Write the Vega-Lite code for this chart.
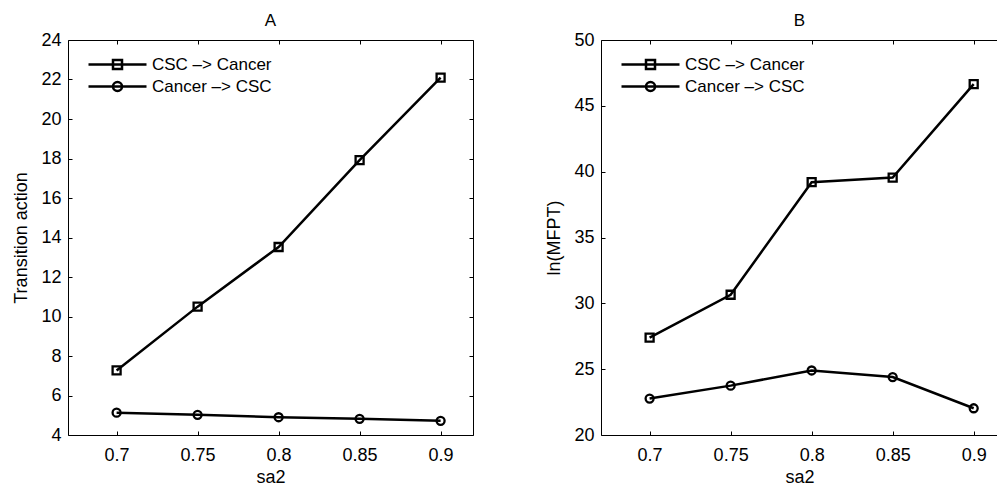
{
  "$schema": "https://vega.github.io/schema/vega-lite/v6.json",
  "padding": {"left": 12, "top": 12, "right": 0, "bottom": 0},
  "bounds": "flush",
  "spacing": 128,
  "config": {
    "view": {"stroke": null},
    "font": "Liberation Sans",
    "axis": {
      "domainColor": "#000", "tickColor": "#000", "labelColor": "#000", "titleColor": "#000",
      "labelFont": "Liberation Sans", "titleFont": "Liberation Sans",
      "labelFontSize": 18, "titleFontSize": 18, "titleFontWeight": "normal",
      "grid": false, "tickSize": -4, "domainWidth": 1, "tickWidth": 1
    },
    "legend": {
      "title": null, "orient": "none", "legendX": 41, "legendY": 16, "padding": 0,
      "symbolSize": 100, "symbolStrokeWidth": 2.5, "symbolStrokeColor": "#000", "symbolFillColor": "transparent", "symbolOpacity": 1,
      "labelFontSize": 17, "labelFont": "Liberation Sans", "labelColor": "#000", "labelOffset": 26, "rowPadding": 3
    },
    "title": {"fontSize": 17, "fontWeight": "normal", "font": "Liberation Sans", "color": "#000", "offset": 1}
  },
  "datasets": {
    "A": [
      {"sa2": 0.7, "value": 7.27, "series": "CSC –> Cancer"},
      {"sa2": 0.75, "value": 10.5, "series": "CSC –> Cancer"},
      {"sa2": 0.8, "value": 13.52, "series": "CSC –> Cancer"},
      {"sa2": 0.85, "value": 17.92, "series": "CSC –> Cancer"},
      {"sa2": 0.9, "value": 22.1, "series": "CSC –> Cancer"},
      {"sa2": 0.7, "value": 5.13, "series": "Cancer –> CSC"},
      {"sa2": 0.75, "value": 5.02, "series": "Cancer –> CSC"},
      {"sa2": 0.8, "value": 4.9, "series": "Cancer –> CSC"},
      {"sa2": 0.85, "value": 4.82, "series": "Cancer –> CSC"},
      {"sa2": 0.9, "value": 4.72, "series": "Cancer –> CSC"}
    ],
    "B": [
      {"sa2": 0.7, "value": 27.4, "series": "CSC –> Cancer"},
      {"sa2": 0.75, "value": 30.65, "series": "CSC –> Cancer"},
      {"sa2": 0.8, "value": 39.2, "series": "CSC –> Cancer"},
      {"sa2": 0.85, "value": 39.55, "series": "CSC –> Cancer"},
      {"sa2": 0.9, "value": 46.65, "series": "CSC –> Cancer"},
      {"sa2": 0.7, "value": 22.77, "series": "Cancer –> CSC"},
      {"sa2": 0.75, "value": 23.75, "series": "Cancer –> CSC"},
      {"sa2": 0.8, "value": 24.9, "series": "Cancer –> CSC"},
      {"sa2": 0.85, "value": 24.4, "series": "Cancer –> CSC"},
      {"sa2": 0.9, "value": 22.03, "series": "Cancer –> CSC"}
    ]
  },
  "hconcat": [
    {
      "width": 405, "height": 395,
      "title": "A",
      "data": {"name": "A"},
      "layer": [
        {
          "mark": {"type": "line", "color": "#000", "strokeWidth": 2.5},
          "encoding": {
            "x": {"field": "sa2", "type": "quantitative", "scale": {"domain": [0.67, 0.92], "nice": false, "zero": false},
                  "axis": {"orient": "bottom", "values": [0.7, 0.75, 0.8, 0.85, 0.9], "format": "~g", "title": "sa2", "labelPadding": 15, "titlePadding": 4}},
            "y": {"field": "value", "type": "quantitative", "scale": {"domain": [4, 24], "nice": false, "zero": false},
                  "axis": {"orient": "left", "values": [4, 6, 8, 10, 12, 14, 16, 18, 20, 22, 24], "title": "Transition action", "labelPadding": 11, "titlePadding": 10}},
            "detail": {"field": "series", "type": "nominal"}
          }
        },
        {
          "mark": {"type": "point", "filled": false, "color": "#000", "strokeWidth": 2.3, "size": 64, "opacity": 1},
          "encoding": {
            "x": {"field": "sa2", "type": "quantitative", "scale": {"domain": [0.67, 0.92], "nice": false, "zero": false},
                  "axis": {"orient": "top", "values": [0.7, 0.75, 0.8, 0.85, 0.9], "labels": false, "title": null}},
            "y": {"field": "value", "type": "quantitative", "scale": {"domain": [4, 24], "nice": false, "zero": false},
                  "axis": {"orient": "right", "values": [4, 6, 8, 10, 12, 14, 16, 18, 20, 22, 24], "labels": false, "title": null}},
            "shape": {"field": "series", "type": "nominal",
                      "scale": {"domain": ["CSC –> Cancer", "Cancer –> CSC"], "range": ["square", "circle"]},
                      "legend": null}
          }
        },
        {
          "mark": {"type": "point", "filled": false, "color": "#000", "strokeWidth": 2.5, "size": 100, "opacity": 0},
          "encoding": {
            "x": {"field": "sa2", "type": "quantitative", "scale": {"domain": [0.67, 0.92], "nice": false, "zero": false}, "axis": null},
            "y": {"field": "value", "type": "quantitative", "scale": {"domain": [4, 24], "nice": false, "zero": false}, "axis": null},
            "shape": {"field": "series", "type": "nominal",
                      "scale": {"domain": ["CSC –> Cancer", "Cancer –> CSC"],
                                "range": ["M-5.8,0H5.8M-0.9,-0.9H0.9V0.9H-0.9Z", "M-5.8,0H5.8M0.9,0A0.9,0.9,0,1,1,-0.9,0A0.9,0.9,0,1,1,0.9,0"]},
                      "legend": {}}
          }
        }
      ],
      "resolve": {"axis": {"x": "independent", "y": "independent"}, "scale": {"shape": "independent"}}
    },
    {
      "width": 397, "height": 395,
      "title": "B",
      "data": {"name": "B"},
      "layer": [
        {
          "mark": {"type": "line", "color": "#000", "strokeWidth": 2.5},
          "encoding": {
            "x": {"field": "sa2", "type": "quantitative", "scale": {"domain": [0.67, 0.915], "nice": false, "zero": false},
                  "axis": {"orient": "bottom", "values": [0.7, 0.75, 0.8, 0.85, 0.9], "format": "~g", "title": "sa2", "labelPadding": 15, "titlePadding": 4}},
            "y": {"field": "value", "type": "quantitative", "scale": {"domain": [20, 50], "nice": false, "zero": false},
                  "axis": {"orient": "left", "values": [20, 25, 30, 35, 40, 45, 50], "title": "ln(MFPT)", "labelPadding": 11, "titlePadding": 10}},
            "detail": {"field": "series", "type": "nominal"}
          }
        },
        {
          "mark": {"type": "point", "filled": false, "color": "#000", "strokeWidth": 2.3, "size": 64, "opacity": 1},
          "encoding": {
            "x": {"field": "sa2", "type": "quantitative", "scale": {"domain": [0.67, 0.915], "nice": false, "zero": false},
                  "axis": {"orient": "top", "values": [0.7, 0.75, 0.8, 0.85, 0.9], "labels": false, "title": null}},
            "y": {"field": "value", "type": "quantitative", "scale": {"domain": [20, 50], "nice": false, "zero": false},
                  "axis": null},
            "shape": {"field": "series", "type": "nominal",
                      "scale": {"domain": ["CSC –> Cancer", "Cancer –> CSC"], "range": ["square", "circle"]},
                      "legend": null}
          }
        },
        {
          "mark": {"type": "point", "filled": false, "color": "#000", "strokeWidth": 2.5, "size": 100, "opacity": 0},
          "encoding": {
            "x": {"field": "sa2", "type": "quantitative", "scale": {"domain": [0.67, 0.915], "nice": false, "zero": false}, "axis": null},
            "y": {"field": "value", "type": "quantitative", "scale": {"domain": [20, 50], "nice": false, "zero": false}, "axis": null},
            "shape": {"field": "series", "type": "nominal",
                      "scale": {"domain": ["CSC –> Cancer", "Cancer –> CSC"],
                                "range": ["M-5.8,0H5.8M-0.9,-0.9H0.9V0.9H-0.9Z", "M-5.8,0H5.8M0.9,0A0.9,0.9,0,1,1,-0.9,0A0.9,0.9,0,1,1,0.9,0"]},
                      "legend": {}}
          }
        }
      ],
      "resolve": {"axis": {"x": "independent", "y": "independent"}, "scale": {"shape": "independent"}}
    }
  ],
  "resolve": {"scale": {"x": "independent", "y": "independent", "shape": "independent"}, "legend": {"shape": "independent"}}
}
